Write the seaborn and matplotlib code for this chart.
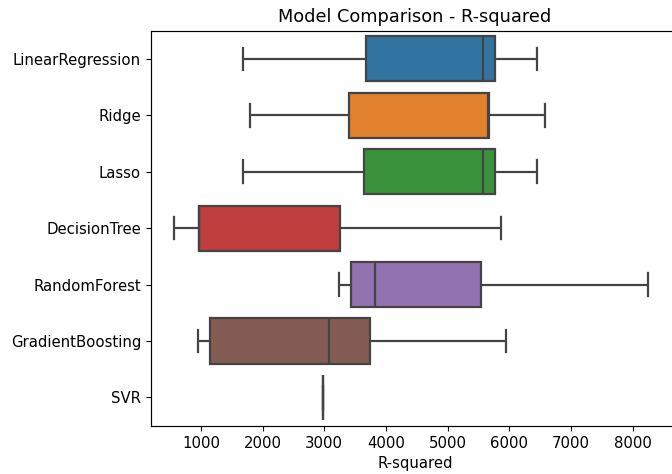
import matplotlib
matplotlib.use("Agg")
import matplotlib.pyplot as plt
import seaborn as sns
import pandas as pd

models = ["LinearRegression", "Ridge", "Lasso", "DecisionTree",
          "RandomForest", "GradientBoosting", "SVR"]

linear_regression = [1677, 3671, 5579, 5763, 6444]
ridge = [1795, 3395, 5660, 5676, 6579]
lasso = [1677, 3644, 5579, 5763, 6454]
decision_tree = [568, 963, 963, 3260, 5860]
random_forest = [3238, 3428, 3822, 5541, 8244]
gradient_boosting = [947, 1146, 3076, 3741, 5946]
svr = [2979, 2979, 2979, 2979, 2979]

series = [linear_regression, ridge, lasso, decision_tree,
          random_forest, gradient_boosting, svr]

rows = []
for m, vals in zip(models, series):
    for v in vals:
        rows.append({"Model": m, "R-squared": v})
df = pd.DataFrame(rows)

plt.rcParams["font.size"] = 10.7
plt.rcParams["xtick.labelsize"] = 10.7
plt.rcParams["ytick.labelsize"] = 10.7
plt.rcParams["axes.linewidth"] = 0.85
plt.rcParams["xtick.major.size"] = 3.7
plt.rcParams["ytick.major.size"] = 3.7

fig = plt.figure(figsize=(6.72, 4.74), dpi=100)
ax = fig.add_axes([151/672, 1 - 425.7/474, (679 - 151)/672, (425.7 - 30.7)/474])

sns.boxplot(data=df, x="R-squared", y="Model", hue="Model", order=models,
            hue_order=models, palette="tab10", legend=False, ax=ax,
            linecolor="#444444", linewidth=1.6)

ax.set_xlim(190, 8752)
ax.set_ylabel("")
ax.set_xlabel("R-squared", fontsize=10.7)
ax.set_title("Model Comparison - R-squared", fontsize=12.8)

fig.savefig("out.png", dpi=100)
